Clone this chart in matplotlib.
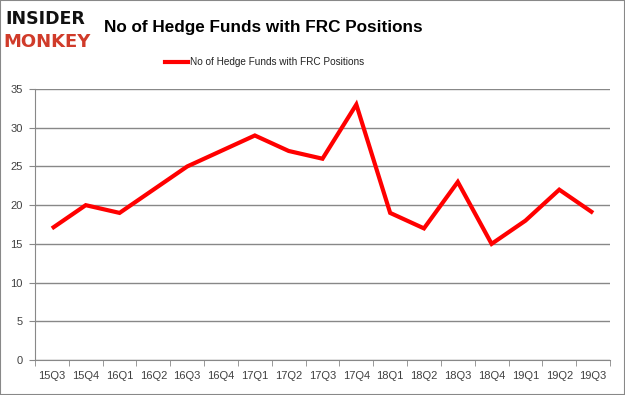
import matplotlib.pyplot as plt
from matplotlib.patches import Rectangle

quarters = ["15Q3", "15Q4", "16Q1", "16Q2", "16Q3", "16Q4", "17Q1", "17Q2", "17Q3",
            "17Q4", "18Q1", "18Q2", "18Q3", "18Q4", "19Q1", "19Q2", "19Q3"]
funds = [17, 20, 19, 22, 25, 27, 29, 27, 26, 33, 19, 17, 23, 15, 18, 22, 19]
series_name = "No of Hedge Funds with FRC Positions"
y_ticks = [0, 5, 10, 15, 20, 25, 30, 35]

plt.rcParams["font.family"] = ["Liberation Sans", "DejaVu Sans"]

fig = plt.figure(figsize=(6.25, 3.95), dpi=100)
ax = fig.add_axes([0.056, 0.0886, 0.92, 0.686])

pos = list(range(len(quarters)))
ax.plot(pos, funds, color="#ff0000", lw=3.0, solid_capstyle="butt", solid_joinstyle="miter")

ax.set_xlim(-0.5, len(quarters) - 0.5)
ax.set_ylim(0, 35)
ax.set_yticks(y_ticks)
ax.set_xticks(pos)
ax.set_xticklabels(quarters)
ax.set_xticks([p - 0.5 for p in pos] + [len(quarters) - 0.5], minor=True)
ax.tick_params(axis="x", which="major", length=0, pad=8, labelsize=8, labelcolor="#404040")
ax.tick_params(axis="x", which="minor", length=4, color="#888888")
ax.tick_params(axis="y", length=4, color="#888888", labelsize=8, labelcolor="#404040", pad=5)
ax.grid(axis="y", color="#888888", lw=1)
ax.set_axisbelow(True)
for s in ["top", "right"]:
    ax.spines[s].set_visible(False)
for s in ["left", "bottom"]:
    ax.spines[s].set_color("#888888")

fig.text(0.166, 0.93, "No of Hedge Funds with FRC Positions", fontsize=12.3, fontweight="bold",
         va="center", ha="left")
fig.text(0.008, 0.952, "INSIDER", fontsize=12.5, fontweight="heavy", color="#111111", va="center",
         family="DejaVu Sans")
fig.text(0.006, 0.893, "MONKEY", fontsize=13, fontweight="heavy", color="#d03b2a", va="center",
         family="DejaVu Sans")

fig.lines.append(plt.Line2D([0.264, 0.300], [0.843, 0.843], color="#ff0000", lw=3.0,
                            transform=fig.transFigure))
fig.text(0.304, 0.843, series_name, fontsize=7.2, va="center", ha="left", color="#222222")

fig.patches.append(Rectangle((0, 0), 1, 1, transform=fig.transFigure, fill=False,
                             edgecolor="#888888", lw=1.5))

fig.savefig("out.png", dpi=100)
